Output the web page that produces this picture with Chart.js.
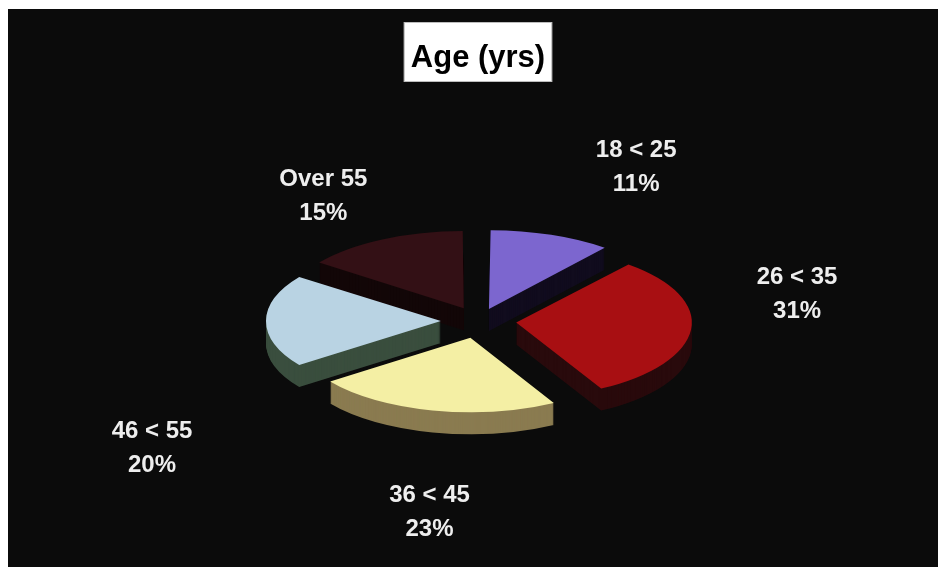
<!DOCTYPE html>
<html>
<head>
<meta charset="utf-8">
<script src="https://cdn.jsdelivr.net/npm/chart.js@4/dist/chart.umd.min.js"></script>
<style>
  html, body { margin: 0; padding: 0; background: #ffffff; }
  #wrap { position: relative; width: 938px; height: 570px; }
  canvas { display: block; }
</style>
</head>
<body>
<div id="wrap"><canvas id="agePie" width="938" height="570"></canvas></div>
<script>
// Age distribution of respondents
const chartTitle = 'Age (yrs)';
const ageGroups = ['18 < 25', '26 < 35', '36 < 45', '46 < 55', 'Over 55'];
const sharePercent = [11, 31, 23, 20, 15];

// Face colours and the darker colours of each slice's rim wall
const topColors  = ['#7c66cf', '#a80f12', '#f4efa4', '#b9d3e3', '#331015'];
const sideColors = ['#110c1e', '#290a0c', '#8a7b50', '#3a4e3e', '#130708'];

const FONT = '"Liberation Sans", Arial, Helvetica, sans-serif';
const EXPLODE = 40;   // how far each slice is pulled out from the centre

// Chart.js moves an arc by offset/4 * (1 + (1 - sin(sweep))); invert that so
// every slice is pulled out by the same distance.
function sliceOffset(ctx) {
  const total = sharePercent.reduce((a, b) => a + b, 0);
  const sweep = Math.min(Math.PI, (ctx.parsed / total) * Math.PI * 2);
  return EXPLODE * 4 / (2 - Math.sin(sweep));
}

// Tilted, extruded pie: squashes the circle into an ellipse, stacks the
// darker rim under each slice, and writes the group labels around it.
const tiltedPie = {
  id: 'tiltedPie',
  beforeDraw(chart, args, opts) {
    const ctx = chart.ctx;
    ctx.save();
    ctx.fillStyle = opts.backdrop;
    ctx.fillRect(8, 9, 930, 558);

    // title in a white box
    ctx.font = 'bold 31px ' + FONT;
    const tw = ctx.measureText(chartTitle).width;
    const cx = opts.titleX;
    const bw = tw + 14;
    ctx.fillStyle = '#ffffff';
    ctx.fillRect(cx - bw / 2, 22, bw, 60);
    ctx.strokeStyle = '#bdbdbd';
    ctx.lineWidth = 1;
    ctx.strokeRect(cx - bw / 2 + 0.5, 22.5, bw - 1, 59);
    ctx.fillStyle = '#000000';
    ctx.textAlign = 'center';
    ctx.textBaseline = 'alphabetic';
    ctx.fillText(chartTitle, cx, 67);
    ctx.restore();
  },
  beforeDatasetsDraw(chart, args, opts) {
    const ctx = chart.ctx;
    const meta = chart.getDatasetMeta(0);
    const cy = meta.data[0].y;
    const squash = () => {
      ctx.translate(0, cy);
      ctx.scale(1, opts.tilt);
      ctx.translate(0, -cy);
    };
    for (let d = opts.depth; d >= 1; d--) {
      meta.data.forEach((arc, i) => {
        const saved = arc.options;
        arc.options = Object.assign({}, saved, { backgroundColor: sideColors[i], borderWidth: 0 });
        ctx.save();
        ctx.translate(0, d);
        squash();
        arc.draw(ctx);
        ctx.restore();
        arc.options = saved;
      });
    }
    ctx.save();
    squash();
  },
  afterDatasetsDraw(chart, args, opts) {
    const ctx = chart.ctx;
    ctx.restore();

    const meta = chart.getDatasetMeta(0);
    ctx.save();
    ctx.fillStyle = opts.labelColor;
    ctx.font = opts.labelFont;
    ctx.textAlign = 'center';
    ctx.textBaseline = 'alphabetic';
    meta.data.forEach((arc, i) => {
      const mid = (arc.startAngle + arc.endAngle) / 2;
      const r = arc.outerRadius + EXPLODE;
      const rimX = arc.x + Math.cos(mid) * r;
      const rimY = arc.y + Math.sin(mid) * r * opts.tilt;
      const [dx, dy] = opts.labelShift[i];
      const x = rimX + dx, y = rimY + dy;
      ctx.fillText(chart.data.labels[i], x, y);
      ctx.fillText(chart.data.datasets[0].data[i] + '%', x, y + opts.lineGap);
    });
    ctx.restore();
  }
};

new Chart(document.getElementById('agePie'), {
  type: 'pie',
  data: {
    labels: ageGroups,
    datasets: [{
      data: sharePercent,
      backgroundColor: topColors,
      borderWidth: 0,
      offset: sliceOffset
    }]
  },
  options: {
    responsive: false,
    animation: false,
    events: [],
    radius: 173,
    rotation: 0,
    layout: { padding: { left: 20, right: 0, top: 80, bottom: 8 } },
    plugins: {
      legend: { display: false },
      title: { display: false },
      tooltip: { enabled: false },
      tiltedPie: {
        backdrop: '#0b0b0b',
        titleX: 478,
        tilt: 0.43,
        depth: 22,
        labelColor: '#eeeeee',
        labelFont: 'bold 24px ' + FONT,
        lineGap: 34,
        labelShift: [[85, -78], [106, -46], [-3, 92], [-114, 117], [-59, -53]]
      }
    }
  },
  plugins: [tiltedPie]
});
</script>
</body>
</html>
